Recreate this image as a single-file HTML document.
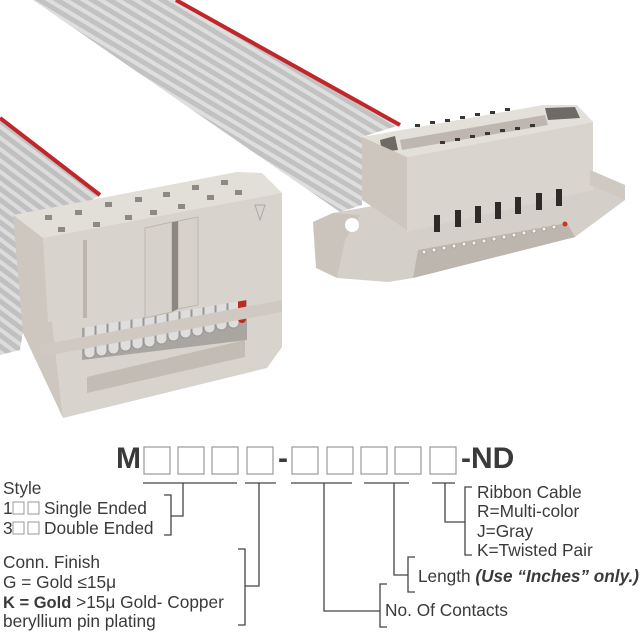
<!DOCTYPE html>
<html><head><meta charset="utf-8"><style>
html,body{margin:0;padding:0;background:#fff;}
svg{display:block}
text{font-family:"Liberation Sans",sans-serif;fill:#3a3a3a}
</style></head><body>
<svg width="640" height="640" viewBox="0 0 640 640" xmlns="http://www.w3.org/2000/svg">
<defs>
<pattern id="rib" width="9" height="9" patternUnits="userSpaceOnUse" patternTransform="rotate(31)">
<rect width="9" height="9" fill="#c2c2c2"/><rect width="9" height="4" fill="#dedede"/>
</pattern>
<pattern id="rib2" width="9" height="9" patternUnits="userSpaceOnUse" patternTransform="rotate(37)">
<rect width="9" height="9" fill="#c0c0c0"/><rect width="9" height="4" fill="#dcdcdc"/>
</pattern>
</defs>
<!-- main ribbon -->
<polygon points="33,0 176,0 400,125 362,137 362,205 340,212" fill="url(#rib)"/>
<line x1="176" y1="0" x2="400" y2="125" stroke="#c0262b" stroke-width="4"/>
<!-- left ribbon -->
<polygon points="0,118 100,195 40,232 20,350 0,355" fill="url(#rib2)"/>
<line x1="0" y1="118" x2="100" y2="195" stroke="#c0262b" stroke-width="4"/>

<!-- right connector -->
<polygon points="313,222 333,213 407,200 590,170 625,185 625,200 575,237 413,278 388,282 337,278" fill="#d4cfc8"/>
<polygon points="313,222 333,213 360,215 345,240 337,278 316,268" fill="#cac4bc"/>
<circle cx="352" cy="225" r="7" fill="#fff"/>
<polygon points="418,250 567,223 575,237 413,278" fill="#bcb6ae"/>
<g fill="#f4f1e6" stroke="#8a847c" stroke-width="0.6">
<circle cx="424" cy="252" r="2"/><circle cx="434" cy="250" r="2"/><circle cx="444" cy="248" r="2"/><circle cx="454" cy="246" r="2"/><circle cx="464" cy="244" r="2"/><circle cx="474" cy="243" r="2"/><circle cx="484" cy="241" r="2"/><circle cx="494" cy="239" r="2"/><circle cx="504" cy="237" r="2"/><circle cx="514" cy="235" r="2"/><circle cx="524" cy="233" r="2"/><circle cx="534" cy="231" r="2"/><circle cx="544" cy="229" r="2"/><circle cx="554" cy="227" r="2"/>
</g>
<circle cx="565" cy="224" r="2.5" fill="#d43020"/>
<polygon points="362,137 543,105 577,105 593,122 407,157" fill="#e3dfd9"/>
<polygon points="380,140 395,136 398,150 382,152" fill="#6e6a66"/>
<polygon points="545,108 575,107 580,118 548,120" fill="#6e6a66"/>
<polygon points="400,140 545,115 548,125 402,150" fill="#bdb7b0"/>
<g fill="#3a3632">
<rect x="415" y="124" width="5" height="3"/><rect x="430" y="121" width="5" height="3"/><rect x="445" y="119" width="5" height="3"/><rect x="460" y="116" width="5" height="3"/><rect x="475" y="113" width="5" height="3"/><rect x="490" y="111" width="5" height="3"/><rect x="505" y="108" width="5" height="3"/>
<rect x="440" y="141" width="5" height="3"/><rect x="455" y="138" width="5" height="3"/><rect x="470" y="135" width="5" height="3"/><rect x="485" y="132" width="5" height="3"/><rect x="500" y="129" width="5" height="3"/><rect x="515" y="127" width="5" height="3"/><rect x="530" y="124" width="5" height="3"/>
</g>
<polygon points="362,137 407,157 407,230 362,200" fill="#ccc6be"/>
<polygon points="407,157 593,122 593,190 407,232" fill="#d9d4cd"/>
<g fill="#2e2a27">
<rect x="434" y="215" width="6" height="17"/><rect x="455" y="210" width="6" height="17"/><rect x="475" y="206" width="6" height="17"/><rect x="495" y="202" width="6" height="17"/><rect x="515" y="197" width="6" height="17"/><rect x="536" y="193" width="6" height="17"/><rect x="556" y="189" width="6" height="17"/>
</g>
<polygon points="590,170 625,185 625,200 590,185" fill="#cfc9c2"/>

<!-- left connector -->
<polygon points="13,215 237,172 262,173 282,193 43,238" fill="#e2ded8"/>
<g fill="#8e8983">
<rect x="45" y="215" width="7" height="5"/><rect x="75" y="210" width="7" height="5"/><rect x="105" y="202" width="7" height="5"/><rect x="135" y="197" width="7" height="5"/><rect x="163" y="192" width="7" height="5"/><rect x="192" y="185" width="7" height="5"/><rect x="221" y="180" width="7" height="5"/>
<rect x="58" y="227" width="7" height="5"/><rect x="93" y="222" width="7" height="5"/><rect x="125" y="215" width="7" height="5"/><rect x="150" y="210" width="7" height="5"/><rect x="178" y="204" width="7" height="5"/><rect x="207" y="195" width="7" height="5"/><rect x="235" y="190" width="7" height="5"/>
</g>
<polygon points="13,215 43,238 63,418 23,333" fill="#cdc7bf"/>
<polygon points="43,238 282,193 282,347 267,368 63,418" fill="#d8d3cc"/>
<polygon points="82,320 247,287 247,340 82,360" fill="#a9a5a0"/>
<g fill="#dedede" stroke="#9a9692" stroke-width="1">
<rect x="84" y="320" width="11" height="38" rx="5"/><rect x="96" y="318" width="11" height="38" rx="5"/><rect x="108" y="316" width="11" height="38" rx="5"/><rect x="120" y="313" width="11" height="38" rx="5"/><rect x="132" y="311" width="11" height="38" rx="5"/><rect x="144" y="309" width="11" height="38" rx="5"/><rect x="156" y="306" width="11" height="38" rx="5"/><rect x="168" y="303" width="11" height="38" rx="5"/><rect x="180" y="300" width="11" height="38" rx="5"/><rect x="192" y="298" width="11" height="38" rx="5"/><rect x="204" y="295" width="11" height="38" rx="5"/><rect x="216" y="292" width="11" height="38" rx="5"/><rect x="228" y="290" width="11" height="38" rx="5"/>
</g>
<rect x="238" y="288" width="8" height="35" rx="4" fill="#c02a20"/>
<!-- front face upper portions covering coils -->
<polygon points="43,238 282,193 282,288 247,290 247,300 82,328 82,318 48,322" fill="#d8d3cc"/>
<polygon points="145,228 172,222 172,312 145,318" fill="#d6d1ca" stroke="#bdb7af" stroke-width="1"/>
<polygon points="178,221 198,217 198,305 178,309" fill="#d6d1ca" stroke="#bdb7af" stroke-width="1"/>
<rect x="83" y="240" width="4" height="78" fill="#bbb5ad"/>
<polygon points="172,222 178,221 178,309 172,312" fill="#8c8781"/>
<polygon points="40,345 282,300 282,312 40,357" fill="#cfc9c1"/>
<polygon points="87,377 245,340 245,357 87,393" fill="#c2bcb4"/>
<polygon points="255,205 265,205 260,220" fill="none" stroke="#aaa" stroke-width="1"/>

<!-- part number -->
<text x="116" y="468" font-size="30" font-weight="bold" fill="#333">M</text>
<g fill="none" stroke="#999" stroke-width="1.2">
<rect x="144" y="447" width="26" height="27"/><rect x="178" y="447" width="26" height="27"/><rect x="212" y="447" width="26" height="27"/><rect x="247" y="447" width="26" height="27"/>
<rect x="292" y="447" width="26" height="27"/><rect x="327" y="447" width="26" height="27"/><rect x="361" y="447" width="26" height="27"/><rect x="395" y="447" width="26" height="27"/><rect x="430" y="447" width="26" height="27"/>
</g>
<text x="278" y="468" font-size="30" font-weight="bold" fill="#333">-</text>
<text x="461" y="468" font-size="30" font-weight="bold" fill="#333">-ND</text>

<g stroke="#444" stroke-width="1.3" fill="none">
<line x1="143" y1="483" x2="237" y2="483"/><line x1="245" y1="483" x2="276" y2="483"/><line x1="291" y1="483" x2="352" y2="483"/><line x1="364" y1="483" x2="409" y2="483"/><line x1="432" y1="483" x2="455" y2="483"/>
<polyline points="183,483 183,516 171,516"/><polyline points="164,495 171,495 171,535 164,535"/>
<polyline points="259,483 259,586 245,586"/><polyline points="238,549 245,549 245,625 238,625"/>
<polyline points="324,483 324,611 380,611"/><polyline points="387,584 380,584 380,627 387,627"/>
<polyline points="394,483 394,575 408,575"/><polyline points="415,557 408,557 408,592 415,592"/>
<polyline points="445,483 445,522 465,522"/><polyline points="472,487 465,487 465,555 472,555"/>
</g>
<g font-size="17.3">
<text x="3" y="494">Style</text>
<text x="3" y="514">1</text><rect x="13" y="502" width="11" height="12" fill="none" stroke="#999"/><rect x="28" y="502" width="11" height="12" fill="none" stroke="#999"/><text x="44" y="514">Single Ended</text>
<text x="3" y="534">3</text><rect x="13" y="522" width="11" height="12" fill="none" stroke="#999"/><rect x="28" y="522" width="11" height="12" fill="none" stroke="#999"/><text x="44" y="534">Double Ended</text>
<text x="3" y="568">Conn. Finish</text>
<text x="3" y="588">G = Gold ≤15μ</text>
<text x="3" y="608"><tspan font-weight="bold" font-size="16.5">K = Gold</tspan> &gt;15μ Gold- Copper</text>
<text x="3" y="627">beryllium pin plating</text>
<text x="385" y="616">No. Of Contacts</text>
<text x="418" y="582" textLength="221" lengthAdjust="spacingAndGlyphs">Length <tspan font-weight="bold" font-style="italic">(Use “Inches” only.)</tspan></text>
<text x="477" y="498">Ribbon Cable</text>
<text x="477" y="517">R=Multi-color</text>
<text x="477" y="537">J=Gray</text>
<text x="477" y="556">K=Twisted Pair</text>
</g>
</svg>
</body></html>
